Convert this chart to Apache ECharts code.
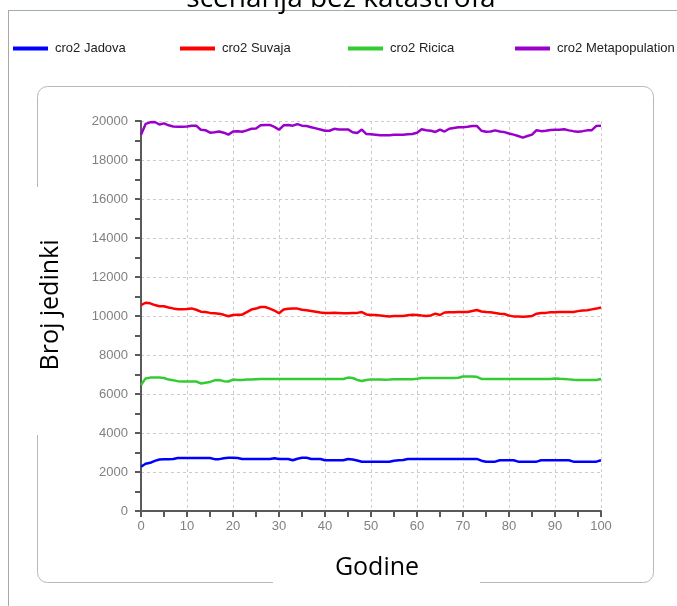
<!DOCTYPE html>
<html>
<head>
<meta charset="utf-8">
<script src="https://cdn.jsdelivr.net/npm/echarts@6/dist/echarts.min.js"></script>
<style>html,body{margin:0;padding:0;background:#fff;}#c{width:677px;height:606px;}</style>
</head>
<body>
<div id="c"></div>
<script>
const years = Array.from({length: 101}, (_, i) => i);
const xTicks = [0,10,20,30,40,50,60,70,80,90,100];
const yTicks = [0,2000,4000,6000,8000,10000,12000,14000,16000,18000,20000];
const seriesNames = ['cro2 Jadova', 'cro2 Suvaja', 'cro2 Ricica', 'cro2 Metapopulation'];

const jadova = [2270,2420,2470,2570,2640,2650,2660,2670,2720,2720,
  2720,2720,2720,2720,2720,2720,2660,2660,2700,2730,
  2730,2720,2670,2670,2670,2670,2670,2670,2670,2700,
  2670,2670,2670,2600,2680,2730,2730,2670,2670,2670,
  2600,2600,2600,2600,2600,2670,2640,2590,2530,2530,
  2530,2530,2530,2530,2530,2580,2600,2620,2670,2670,
  2670,2670,2670,2670,2670,2670,2670,2670,2670,2670,
  2670,2670,2670,2670,2580,2530,2530,2530,2600,2600,
  2600,2600,2530,2530,2530,2530,2530,2600,2600,2600,
  2600,2600,2600,2600,2530,2530,2530,2530,2530,2530,
  2600];
const suvaja = [10560,10680,10650,10560,10500,10500,10440,10390,10350,10340,
  10360,10390,10320,10220,10200,10160,10140,10120,10060,9990,
  10050,10060,10070,10200,10330,10380,10460,10460,10380,10280,
  10140,10330,10370,10380,10380,10320,10290,10260,10220,10180,
  10150,10150,10170,10160,10140,10140,10150,10160,10200,10080,
  10050,10050,10030,10000,9980,10000,10000,10000,10040,10060,
  10050,10020,10000,10030,10120,10050,10180,10190,10190,10200,
  10210,10210,10260,10310,10230,10200,10190,10150,10110,10100,
  10020,9980,9970,9960,9980,10000,10120,10150,10160,10190,
  10190,10200,10200,10210,10210,10250,10280,10300,10340,10380,
  10440];
const ricica = [6460,6800,6840,6840,6840,6820,6740,6700,6660,6640,
  6640,6640,6640,6540,6580,6620,6700,6720,6660,6640,
  6740,6720,6720,6740,6740,6760,6770,6770,6770,6770,
  6770,6770,6770,6770,6770,6770,6770,6770,6770,6770,
  6770,6770,6770,6770,6770,6840,6820,6720,6670,6720,
  6750,6750,6740,6730,6740,6760,6760,6760,6760,6760,
  6780,6820,6820,6820,6820,6820,6820,6820,6820,6830,
  6900,6900,6900,6880,6770,6770,6770,6770,6770,6770,
  6770,6770,6770,6770,6770,6770,6770,6770,6770,6770,
  6800,6780,6770,6750,6730,6720,6720,6720,6720,6720,
  6770];
const metapop = [19300,19850,19930,19950,19820,19880,19780,19720,19700,19700,
  19720,19760,19760,19550,19530,19400,19420,19460,19400,19300,
  19460,19480,19450,19520,19600,19620,19780,19800,19800,19700,
  19550,19780,19800,19760,19840,19760,19740,19680,19620,19560,
  19500,19500,19600,19560,19560,19570,19420,19380,19560,19330,
  19320,19300,19270,19270,19270,19300,19300,19300,19320,19330,
  19400,19580,19530,19500,19440,19560,19460,19600,19640,19680,
  19680,19700,19740,19750,19500,19450,19460,19520,19460,19430,
  19360,19300,19230,19150,19230,19300,19530,19480,19500,19540,
  19550,19550,19580,19520,19480,19450,19480,19520,19530,19750,
  19760];

const seriesValues = [jadova, suvaja, ricica, metapop];
const colors = ['#0000ff', '#ff0000', '#33cc33', '#9900cc'];
const legendLeft = [13, 180, 348, 515];

const chart = echarts.init(document.getElementById('c'), null, {renderer: 'canvas'});
const option = {
  animation: false,
  backgroundColor: '#fff',
  graphic: [
    {type: 'line', shape: {x1: 8, y1: 10.5, x2: 677, y2: 10.5}, style: {stroke: '#9fb09f', lineWidth: 1}, z: 0},
    {type: 'line', shape: {x1: 8.5, y1: 10, x2: 8.5, y2: 606}, style: {stroke: '#a8a8a8', lineWidth: 1}, z: 0},
    {type: 'text', x: 341, y: 13.5, style: {text: 'scenarija bez katastrofa', font: '28px "Open Sans"', fill: '#000', verticalAlign: 'bottom', align: 'center'}, z: 0},
    {type: 'rect', shape: {x: 37.5, y: 86.5, width: 616, height: 496, r: 10}, style: {fill: 'none', stroke: '#b8b8b8', lineWidth: 1}, z: 0},
    {type: 'rect', shape: {x: 30, y: 187, width: 15, height: 248}, style: {fill: '#fff'}, z: 1},
    {type: 'rect', shape: {x: 273, y: 576, width: 207, height: 15}, style: {fill: '#fff'}, z: 1},
    {type: 'text', x: 51, y: 305, rotation: Math.PI / 2, style: {text: 'Broj jedinki', font: '25px "Open Sans"', fill: '#000', align: 'center', verticalAlign: 'middle'}, z: 2},
    {type: 'text', x: 377, y: 568, style: {text: 'Godine', font: '25px "Open Sans"', fill: '#000', align: 'center', verticalAlign: 'middle'}, z: 2}
  ],
  legend: seriesNames.map((n, i) => ({
    data: [n],
    left: legendLeft[i],
    top: 42,
    icon: 'rect',
    itemWidth: 35,
    itemHeight: 4,
    itemGap: 0,
    padding: 0,
    selectedMode: false,
    textStyle: {fontFamily: '"Liberation Sans", Arial', fontSize: 13, color: '#222', padding: [0, 0, 0, 2]}
  })),
  grid: {left: 141, right: 76, top: 121, bottom: 95, containLabel: false},
  xAxis: {
    type: 'value', min: 0, max: 100, interval: 10,
    axisLine: {show: true, onZero: false, lineStyle: {color: '#5a5a5a', width: 2}},
    axisTick: {show: true, length: 6, lineStyle: {color: '#5a5a5a', width: 2}},
    minorTick: {show: true, splitNumber: 2, length: 6, lineStyle: {color: '#5a5a5a', width: 2}},
    axisLabel: {color: '#808080', fontSize: 13, margin: 9, fontFamily: '"Liberation Sans", Arial', formatter: v => xTicks.includes(v) ? String(v) : ''},
    splitLine: {show: true, lineStyle: {color: '#cccccc', type: [3, 3], width: 1}}
  },
  yAxis: {
    type: 'value', min: 0, max: 20000, interval: 2000,
    axisLine: {show: true, lineStyle: {color: '#5a5a5a', width: 2}},
    axisTick: {show: true, length: 6, lineStyle: {color: '#5a5a5a', width: 2}},
    minorTick: {show: true, splitNumber: 2, length: 6, lineStyle: {color: '#5a5a5a', width: 2}},
    axisLabel: {color: '#808080', fontSize: 13, margin: 13, fontFamily: '"Liberation Sans", Arial', formatter: v => yTicks.includes(v) ? String(v) : ''},
    splitLine: {show: true, lineStyle: {color: '#cccccc', type: [3, 3], width: 1}}
  },
  series: seriesNames.map((n, i) => ({
    name: n,
    type: 'line',
    data: years.map((y, k) => [y, seriesValues[i][k]]),
    showSymbol: false,
    symbol: 'none',
    color: colors[i],
    lineStyle: {color: colors[i], width: 2.5},
    z: 3 + i
  }))
};
chart.setOption(option);
</script>
</body>
</html>
